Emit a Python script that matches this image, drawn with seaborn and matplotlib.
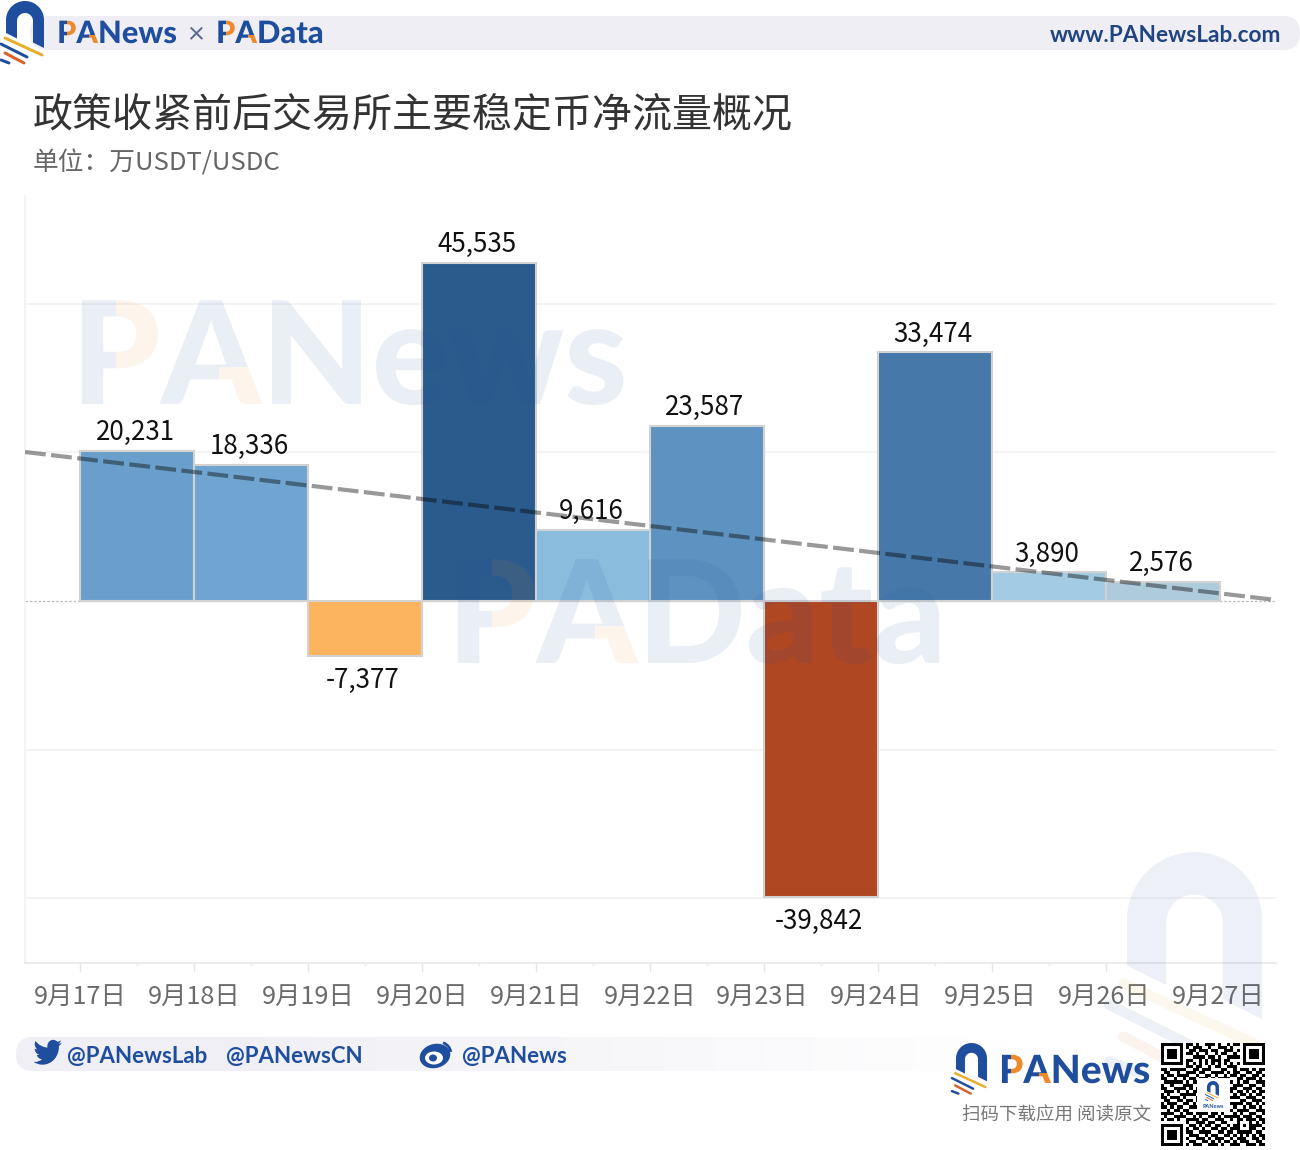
import numpy as np
import pandas as pd
import matplotlib
matplotlib.use("Agg")
import matplotlib.pyplot as plt
import matplotlib.patheffects as pe
import seaborn as sns
from matplotlib.patches import Polygon, Rectangle, FancyBboxPatch, Ellipse, Arc, PathPatch
from matplotlib.path import Path
from matplotlib.textpath import TextPath
from matplotlib.font_manager import FontProperties
from matplotlib.transforms import ScaledTranslation, Affine2D

# bars sit between two dates, so x is the midpoint of each day interval
bar_days = [17.5, 18.5, 19.5, 20.5, 21.5, 22.5, 23.5, 24.5, 25.5, 26.5]
net_flow = [20231, 18336, -7377, 45535, 9616, 23587, -39842, 33474, 3890, 2576]
bar_colors = ["#6a9fcb", "#6fa5d0", "#fdb45f", "#2a5b8c", "#8abcde",
              "#5e93c1", "#af4722", "#4679a9", "#a3cce4", "#aecbdc"]
tick_days = [17, 18, 19, 20, 21, 22, 23, 24, 25, 26, 27]
tick_labels = ["9月17日", "9月18日", "9月19日", "9月20日", "9月21日", "9月22日",
               "9月23日", "9月24日", "9月25日", "9月26日", "9月27日"]
grid_values = [-40000, -20000, 20000, 40000]
trend_days = [16.518, 27.491]
trend_values = [20050, 130]

title = "政策收紧前后交易所主要稳定币净流量概况"
subtitle = "单位\uff1a万USDT/USDC"

BLUE = "#1f4e9e"
ORANGE = "#ee8a2c"
YELLOW = "#e8ae2e"
RED = "#d9622b"
CJK = ["Noto Sans CJK SC", "DejaVu Sans"]
LOGO_WEIGHT = "black"

qr_rows = [
    "111111101101001110100101101111111",
    "100000101011100100111010001000001",
    "101110100110111011001110101011101",
    "101110101101001001011001001011101",
    "101110100011110110100111101011101",
    "100000101100101011101100001000001",
    "111111101010101010101010101111111",
    "000000001101100101100111000000000",
    "110111110011011100011001011101011",
    "011001001110110011110101100110110",
    "101101111001001101001011011001101",
    "110010010110111010111100110111010",
    "011111101011000000000010101100111",
    "100100011100100000000101110011001",
    "110011110101000000000011001110110",
    "011101001011000000000110110101011",
    "101000111110000000000001011010110",
    "110111010001000000000111100111001",
    "011001101101000000000100011001110",
    "101110011010000000000011110110101",
    "110101100111000000000101001011010",
    "001011011000100000001110111100111",
    "111100101101111011010001010011001",
    "010011110010100110101111101110110",
    "101101001111011001110010110111011",
    "000000001001110110011000100010101",
    "111111100110101101100101101011110",
    "100000101011010011011011100011001",
    "101110101100111100110110111110110",
    "101110100111001011001101010101011",
    "101110101001110101110010111001101",
    "100000100110011010101101011100110",
    "111111101011100111010011100111011",
]

sns.set_theme(style="white")
plt.rcParams["font.family"] = CJK

fig = plt.figure(figsize=(13, 11.5), dpi=100, facecolor="white")
ax = fig.add_axes([25 / 1300, 1 - 963 / 1150, 1251 / 1300, 767 / 1150])

df = pd.DataFrame({"day": bar_days, "flow": net_flow, "label": [str(d) for d in bar_days]})
sns.barplot(data=df, x="day", y="flow", hue="label", palette=bar_colors, native_scale=True,
            dodge=False, width=1, legend=False, edgecolor="#d2d2d2", linewidth=1.5,
            saturation=1, ax=ax, zorder=3)
sns.lineplot(x=trend_days, y=trend_values, color="black", alpha=0.4, linewidth=3,
             linestyle=(0, (5, 1.3)), errorbar=None, ax=ax, zorder=6)

ax.set_xlim(trend_days)
ax.set_ylim(-48720, 54500)
ax.set_xlabel("")
ax.set_ylabel("")
ax.set_yticks(grid_values)
ax.set_yticklabels([])
ax.tick_params(axis="y", length=0)
ax.grid(axis="y", color="#f1f1f1", linewidth=1.1, zorder=0)
ax.axhline(0, color="#bdbdbd", linewidth=0.9, linestyle=(0, (2, 1.5)), zorder=1)

ax.set_xticks(tick_days)
ax.set_xticklabels(tick_labels, fontsize=18.2, color="#6b6b6b")
ax.set_xticks(bar_days, minor=True)
ax.tick_params(axis="x", which="major", length=6.5, width=1, color="#e6e6e6", pad=9.5, bottom=True)
ax.tick_params(axis="x", which="minor", length=2, width=1, color="#efefef", bottom=True)
ax.xaxis.get_major_ticks()[-1].tick1line.set_visible(False)
ax.xaxis.get_minor_ticks()[-1].tick1line.set_visible(False)
# the later labels in the reference sit about 2px to the left
for lab in ax.get_xticklabels()[6:]:
    lab.set_transform(lab.get_transform() + ScaledTranslation(-2 / 100, 0, fig.dpi_scale_trans))

for side in ["top", "right"]:
    ax.spines[side].set_visible(False)
ax.spines["left"].set_color("#f3f3f3")
ax.spines["bottom"].set_color("#e8e8e8")
ax.patch.set_alpha(0)

for day, val in zip(bar_days, net_flow):
    off = 18 if val > 0 else -24.5
    ax.annotate(f"{val:,}", xy=(day, val), xytext=(-1.4, off / 1.389), textcoords="offset points",
                ha="center", va="center", fontsize=18.7, color="#111111", zorder=8)

# everything else (header, footer, watermarks) goes on a pixel overlay
ov = fig.add_axes([0, 0, 1, 1], zorder=5)
ov.set_xlim(0, 1300)
ov.set_ylim(1150, 0)
ov.axis("off")
ov.patch.set_alpha(0)


def draw_logo(x0, y0, w, alpha=1.0, zorder=4):
    s = w / 38
    def pt(p):
        return np.column_stack([x0 + (p[:, 0] - 6) * s, y0 + (p[:, 1] - 1) * s])
    t = np.linspace(np.pi, 0, 40)
    outer = np.column_stack([25 + 19 * np.cos(t), 20 - 19 * np.sin(t)])
    inner = np.column_stack([25 + 8 * np.cos(t[::-1]), 21 - 8 * np.sin(t[::-1])])
    arch = np.vstack([[[6, 33]], outer, [[44, 48], [33, 42.5]], inner, [[17, 38.5]]])
    ov.add_patch(Polygon(pt(arch), closed=True, color=BLUE, alpha=alpha, lw=0, zorder=zorder))
    stripes = [((5, 38), (42, 55), YELLOW, 3), ((1, 44), (27, 57), BLUE, 3),
               ((5, 53), (24, 63), RED, 3), ((1, 60), (9, 63), BLUE, 3)]
    for a, b, c, lw in stripes:
        p = pt(np.array([a, b], dtype=float))
        ov.plot(p[:, 0], p[:, 1], color=c, alpha=alpha, lw=lw * s / 1.389,
                solid_capstyle="round", zorder=zorder)


def pa_word(x, base, word, size, alpha=1.0, color=BLUE, zorder=4):
    # blue word is clipped around the P bowl and A leg, those two bits are filled orange
    px = size * 1.389
    fp = FontProperties(family="Lato", weight=LOGO_WEIGHT)
    wp = TextPath((0, 0), "P", size=px, prop=fp).get_extents().x1
    wa = TextPath((0, 0), "PA", size=px, prop=fp).get_extents().x1
    cap = 0.72 * px
    r1 = (x + 0.52 * wp, base - cap - px, 0.6 * wp, 0.68 * cap + px)
    r2 = (x + wp + 0.58 * (wa - wp), base - 0.36 * cap, 0.5 * (wa - wp), 0.36 * cap + px)
    top, bot = base - 2 * px, base + px
    keep = [(x - px, bot), (x - px, top), (r1[0], top), (r1[0], r1[1] + r1[3]),
            (r1[0] + r1[2], r1[1] + r1[3]), (r1[0] + r1[2], top), (x + 8 * px, top), (x + 8 * px, bot),
            (r2[0] + r2[2], bot), (r2[0] + r2[2], r2[1]), (r2[0], r2[1]), (r2[0], bot)]
    t = ov.text(x, base, word, fontproperties=fp, fontsize=size, color=color, alpha=alpha,
                va="baseline", ha="left", zorder=zorder)
    # agg ignores clip paths on plain text, path effects draw it as a path so the clip holds
    t.set_path_effects([pe.Normal()])
    t.set_clip_path(Polygon(keep, closed=True, transform=ov.transData))
    t.set_clip_on(True)
    glyphs = TextPath((0, 0), word[:2], size=px, prop=fp)
    for r in (r1, r2):
        patch = PathPatch(glyphs, facecolor=ORANGE, alpha=alpha, lw=0, zorder=zorder,
                          transform=Affine2D().scale(1, -1).translate(x, base) + ov.transData)
        ov.add_patch(patch)
        patch.set_clip_path(Rectangle(r[:2], r[2], r[3], transform=ov.transData))


# header
ov.add_patch(FancyBboxPatch((30, 16), 1253, 34, boxstyle="round,pad=0,rounding_size=17",
                            mutation_aspect=1, color="#eeeef4", lw=0, zorder=1))
ov.add_patch(FancyBboxPatch((1240, 16), 60, 34, boxstyle="round,pad=0,rounding_size=17",
                            color="#eeeef4", lw=0, zorder=1))
draw_logo(6, 1, 38)
pa_word(57, 43, "PANews", 22.2)
ov.text(196, 35, "×", fontsize=21, color="#5b6b8c", ha="center", va="center", family="Lato")
pa_word(216, 43, "PAData", 22.2)
ov.text(1281, 36, "www.PANewsLab.com", fontsize=16.3, family="Lato", weight="bold", color="#1f4480",
        ha="right", va="center")

# titles
ov.text(33, 115, title, fontsize=28.8, color="#333333", ha="left", va="center")
ov.text(33, 163, subtitle, fontsize=18.5, color="#666666", ha="left", va="center")

# watermarks
pa_word(71, 404, "PANews", 103, alpha=0.09)
pa_word(447, 663, "PAData", 103, alpha=0.09)
draw_logo(1127, 852, 135, alpha=0.08, zorder=2)

# footer strip fades out to the right
pill = FancyBboxPatch((16, 1037), 1000, 34, boxstyle="round,pad=0,rounding_size=17", transform=ov.transData,
                      facecolor="none", lw=0)
ov.add_patch(pill)
fade = np.ones((1, 256, 4))
fade[..., :3] = matplotlib.colors.to_rgb("#efeff5")
fade[..., 3] = np.clip(np.linspace(1.25, 0, 256), 0, 1)
im = ov.imshow(fade, extent=(16, 1016, 1071, 1037), aspect="auto", zorder=1)
im.set_clip_path(pill)
ov.set_xlim(0, 1300)
ov.set_ylim(1150, 0)

for x, txt in [(67, "@PANewsLab"), (226, "@PANewsCN"), (462, "@PANews")]:
    ov.text(x, 1056, txt, fontsize=16, family="Lato", weight="bold", color=BLUE, ha="left", va="center")

# twitter bird
bird = [(22.46, 6), (21.69, 6.35, 20.86, 6.58, 20, 6.69), (20.88, 6.16, 21.56, 5.32, 21.88, 4.31),
        (21.05, 4.81, 20.13, 5.16, 19.16, 5.36), (18.37, 4.5, 17.26, 4, 16, 4),
        (13.65, 4, 11.73, 5.92, 11.73, 8.29), (11.73, 8.63, 11.77, 8.96, 11.84, 9.27),
        (8.28, 9.09, 5.11, 7.38, 3, 4.79), (2.63, 5.42, 2.42, 6.16, 2.42, 6.94),
        (2.42, 8.43, 3.17, 9.75, 4.33, 10.5), (3.62, 10.5, 2.96, 10.3, 2.38, 10),
        (2.38, 12.11, 3.86, 13.85, 5.82, 14.24), (5.46, 14.34, 5.08, 14.39, 4.69, 14.39),
        (4.42, 14.39, 4.15, 14.36, 3.89, 14.31), (4.43, 16, 6, 17.26, 7.89, 17.29),
        (6.43, 18.44, 4.58, 19.13, 2.56, 19.13), (2.22, 19.13, 1.88, 19.11, 1.54, 19.07),
        (3.44, 20.29, 5.7, 21, 8.12, 21), (16, 21, 20.33, 14.46, 20.33, 8.79),
        (20.33, 8.6, 20.33, 8.42, 20.32, 8.23), (21.16, 7.63, 21.88, 6.87, 22.46, 6)]
verts, codes = [bird[0]], [Path.MOVETO]
for seg in bird[1:]:
    verts += [seg[:2], seg[2:4], seg[4:]]
    codes += [Path.CURVE4] * 3
verts = np.array(verts) * np.array([1.35, 1.46]) + np.array([31.5, 1034])
ov.add_patch(PathPatch(Path(verts, codes), color=BLUE, lw=0, zorder=4))

# weibo icon
ov.add_patch(Ellipse((435, 1056), 31, 24, angle=-15, color=BLUE, lw=0, zorder=4))
ov.add_patch(Ellipse((434, 1058), 18, 13, color="white", lw=0, zorder=4.1))
ov.add_patch(Ellipse((433, 1058), 8, 7, color=BLUE, lw=0, zorder=4.2))
ov.add_patch(Arc((439, 1054), 24, 24, theta1=-70, theta2=-10, color=BLUE, lw=2, zorder=4))
ov.add_patch(Arc((439, 1054), 14, 14, theta1=-70, theta2=-10, color=BLUE, lw=2, zorder=4))

# bottom right logo block
draw_logo(956, 1043, 31, zorder=4)
pa_word(999, 1083, "PANews", 28)
ov.text(1151, 1116, "扫码下载应用 阅读原文", fontsize=13.3, color="#777777", ha="right", va="center")

qr = np.array([[int(c) for c in row] for row in qr_rows])
ov.imshow(1 - qr, cmap="gray", vmin=0, vmax=1, extent=(1161, 1265, 1146, 1043),
          aspect="auto", interpolation="nearest", zorder=4)
ov.set_xlim(0, 1300)
ov.set_ylim(1150, 0)
ov.add_patch(Rectangle((1197, 1078), 33, 34, color="white", lw=0, zorder=4.5))
draw_logo(1207, 1081, 12, zorder=5)
ov.text(1213, 1106, "PANews", fontsize=4, family="Lato", weight="bold", color=BLUE,
        ha="center", va="center", zorder=5)

fig.savefig("out.png", dpi=100, facecolor="white")
